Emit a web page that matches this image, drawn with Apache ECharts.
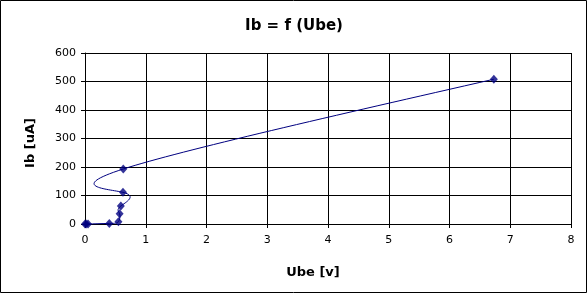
<!DOCTYPE html>
<html>
<head>
<meta charset="utf-8">
<script src="https://cdn.jsdelivr.net/npm/echarts@6/dist/echarts.min.js"></script>
<style>
html,body{margin:0;padding:0;background:#fff;}
#chart{width:588px;height:294px;}
</style>
</head>
<body>
<div id="chart"></div>
<script>
var chartTitle = 'Ib = f (Ube)';
var xName = 'Ube [v]';
var yName = 'Ib [uA]';
var ube = [0, 0.02, 0.05, 0.40, 0.55, 0.57, 0.59, 0.625, 0.63, 6.73];
var ib  = [0, 0, 0, 2, 8, 36, 63, 111, 193, 508];
var xTicks = [0, 1, 2, 3, 4, 5, 6, 7, 8];
var yTicks = [0, 100, 200, 300, 400, 500, 600];

// Parametric natural cubic spline (uniform parameter, one step per point),
// returned as cubic Bezier segments in data coordinates.
function splineBeziers(xs, ys) {
  var n = xs.length;
  function second(v) {
    var M = new Array(n).fill(0);
    if (n < 3) return M;
    var a = [], b = [], c = [], d = [];
    for (var i = 1; i < n - 1; i++) {
      a.push(1); b.push(4); c.push(1);
      d.push(6 * (v[i+1] - 2 * v[i] + v[i-1]));
    }
    var m = b.length;
    for (var k = 1; k < m; k++) {
      var w = a[k] / b[k-1];
      b[k] -= w * c[k-1];
      d[k] -= w * d[k-1];
    }
    var x = new Array(m);
    x[m-1] = d[m-1] / b[m-1];
    for (var k2 = m - 2; k2 >= 0; k2--) x[k2] = (d[k2] - c[k2] * x[k2+1]) / b[k2];
    for (var j = 0; j < m; j++) M[j+1] = x[j];
    return M;
  }
  var Mx = second(xs), My = second(ys);
  var segs = [];
  for (var s = 0; s < n - 1; s++) {
    var d0x = (xs[s+1] - xs[s]) - (2 * Mx[s] + Mx[s+1]) / 6;
    var d0y = (ys[s+1] - ys[s]) - (2 * My[s] + My[s+1]) / 6;
    var d1x = (xs[s+1] - xs[s]) + (Mx[s] + 2 * Mx[s+1]) / 6;
    var d1y = (ys[s+1] - ys[s]) + (My[s] + 2 * My[s+1]) / 6;
    segs.push([
      [xs[s], ys[s]],
      [xs[s] + d0x / 3, ys[s] + d0y / 3],
      [xs[s+1] - d1x / 3, ys[s+1] - d1y / 3],
      [xs[s+1], ys[s+1]]
    ]);
  }
  return segs;
}

var points = ube.map(function (u, i) { return [u, ib[i]]; });
var chart = echarts.init(document.getElementById('chart'), null, {renderer: 'canvas'});
var font = 'DejaVu Sans';
chart.setOption({
  animation: false,
  backgroundColor: '#ffffff',
  title: {
    text: chartTitle, left: 'center', top: 14,
    textStyle: {fontFamily: font, fontSize: 15, fontWeight: 'bold', color: '#000'}
  },
  graphic: [{
    type: 'rect', silent: true, z: 100,
    shape: {x: 0.5, y: 0.5, width: 586, height: 292},
    style: {fill: null, stroke: '#000', lineWidth: 1}
  }],
  grid: {left: 85, right: 17, top: 53, bottom: 70, show: false},
  xAxis: {
    type: 'value', min: xTicks[0], max: xTicks[xTicks.length - 1], interval: 1,
    name: xName, nameLocation: 'middle', nameGap: 42,
    nameTextStyle: {fontFamily: font, fontSize: 13, fontWeight: 'bold', color: '#000', padding: [0, 30, 0, 0]},
    axisLine: {show: true, onZero: false, lineStyle: {color: '#000', width: 1}},
    axisTick: {show: true, length: 4, lineStyle: {color: '#000'}},
    axisLabel: {fontFamily: font, fontSize: 11, color: '#000', margin: 11},
    splitLine: {show: true, lineStyle: {color: '#000', width: 1}}
  },
  yAxis: {
    type: 'value', min: yTicks[0], max: yTicks[yTicks.length - 1], interval: 100,
    name: yName, nameLocation: 'middle', nameGap: 48, nameRotate: 90,
    nameTextStyle: {fontFamily: font, fontSize: 13, fontWeight: 'bold', color: '#000', padding: [0, 9, 0, 0]},
    axisLine: {show: true, lineStyle: {color: '#000', width: 1}},
    axisTick: {show: true, length: 4, lineStyle: {color: '#000'}},
    axisLabel: {fontFamily: font, fontSize: 11, color: '#000', margin: 9},
    splitLine: {show: true, lineStyle: {color: '#000', width: 1}}
  },
  series: [{
    type: 'custom',
    data: points,
    encode: {x: 0, y: 1},
    clip: false,
    z: 2,
    renderItem: function (params, api) {
      if (params.dataIndex !== 0) return null;
      var segs = splineBeziers(ube, ib);
      var p0 = api.coord(segs[0][0]);
      var d = 'M' + p0[0] + ' ' + p0[1];
      segs.forEach(function (sg) {
        var c1 = api.coord(sg[1]), c2 = api.coord(sg[2]), e = api.coord(sg[3]);
        d += ' C' + c1[0] + ' ' + c1[1] + ' ' + c2[0] + ' ' + c2[1] + ' ' + e[0] + ' ' + e[1];
      });
      return {
        type: 'path',
        shape: {pathData: d},
        style: {fill: null, stroke: '#000080', lineWidth: 1}
      };
    }
  }, {
    type: 'scatter',
    data: points,
    symbol: 'diamond',
    symbolSize: [8, 9],
    itemStyle: {color: '#000080'},
    z: 3
  }]
});
</script>
</body>
</html>
